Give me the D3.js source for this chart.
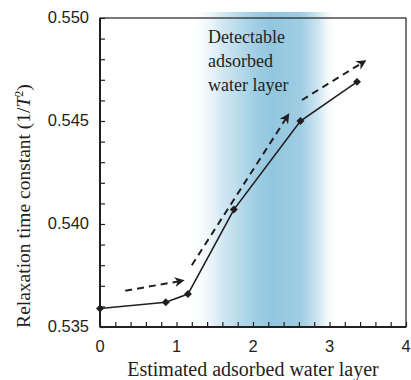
<!DOCTYPE html>
<html>
<head>
<meta charset="utf-8">
<script src="https://cdn.jsdelivr.net/npm/d3@7"></script>
<style>
  body { margin: 0; background: #fff; }
</style>
</head>
<body>
<div id="content"></div>
<script>
"use strict";

// measured points (estimated layer, 1/T2)
var layers = [0, 0.86, 1.15, 1.75, 2.62, 3.36];
var relax = [0.5359, 0.5362, 0.5366, 0.5407, 0.5450, 0.5469];

// dashed trend arrows: [x0, y0, x1, y1]
var arrows = [
  [0.33, 0.53676, 1.08, 0.53725],
  [1.20, 0.53800, 2.46, 0.54529],
  [2.64, 0.54602, 3.46, 0.54790]
];

// shaded detectable band (x range)
var band = [1.15, 3.1];

var xTicks = [0, 1, 2, 3, 4];
var yTicks = [0.535, 0.540, 0.545, 0.550];
var noteLines = ["Detectable", "adsorbed", "water layer"];

var width = 411, height = 380;
var margin = { left: 100, right: 5, top: 18, bottom: 53 };
var serif = '"Liberation Serif", "DejaVu Serif", "Times New Roman", serif';

var svg = d3.select('#content').append('svg')
  .attr('width', width)
  .attr('height', height)
  .attr('font-family', serif)
  .style('font-family', serif);

var x = d3.scaleLinear().domain([0, 4]).range([margin.left, width - margin.right]);
var y = d3.scaleLinear().domain([0.535, 0.550]).range([height - margin.bottom, margin.top]);

var defs = svg.append('defs');
var grad = defs.append('linearGradient').attr('id', 'bandGrad')
  .attr('x1', '0%').attr('x2', '100%').attr('y1', '0%').attr('y2', '0%');
[[0, '#ffffff', 0], [0.22, '#d4e9f3', 1], [0.44, '#a2cfe4', 1], [0.56, '#92c6df', 1],
 [0.76, '#9fcde3', 1], [0.88, '#d2e8f2', 1], [1, '#ffffff', 0]].forEach(function(s) {
  grad.append('stop').attr('offset', s[0]).attr('stop-color', s[1]).attr('stop-opacity', s[2]);
});

svg.append('rect')
  .attr('x', x(band[0]))
  .attr('y', margin.top - 6)
  .attr('width', x(band[1]) - x(band[0]))
  .attr('height', y(0.535) - margin.top + 6)
  .attr('fill', 'url(#bandGrad)');

// frame
svg.append('rect')
  .attr('x', x(0)).attr('y', y(0.550))
  .attr('width', x(4) - x(0)).attr('height', y(0.535) - y(0.550))
  .attr('fill', 'none').attr('stroke', '#231f20').attr('stroke-width', 1.2);

var xAxis = svg.append('g')
  .attr('transform', 'translate(0,' + y(0.535) + ')');
xAxis.call(d3.axisBottom(x).tickValues(d3.range(0, 4.01, 0.2)).tickSize(-5).tickFormat(''));
xAxis.select('.domain').remove();
xAxis.selectAll('line').attr('stroke', '#231f20').attr('stroke-width', 1.2);
xAxis.selectAll('.ticklbl').data(xTicks).enter().append('text')
  .attr('x', function(d) { return x(d); })
  .attr('y', 25)
  .attr('text-anchor', 'middle')
  .attr('fill', '#231f20')
  .style('font-size', '16.5px')
  .text(function(d) { return d; });

var yAxis = svg.append('g')
  .attr('transform', 'translate(' + x(0) + ',0)');
yAxis.call(d3.axisLeft(y).tickValues(d3.range(0.535, 0.5505, 0.001)).tickSize(-5).tickFormat(''));
yAxis.select('.domain').remove();
yAxis.selectAll('line').attr('stroke', '#231f20').attr('stroke-width', 1.2);
yAxis.selectAll('.ticklbl').data(yTicks).enter().append('text')
  .attr('x', -11)
  .attr('y', function(d) { return y(d) + 5; })
  .attr('text-anchor', 'end')
  .attr('fill', '#231f20')
  .style('font-size', '16.5px')
  .text(function(d) { return d3.format('.3f')(d); });

// heavier bottom and left axis lines
svg.append('line').attr('x1', x(0)).attr('x2', x(4)).attr('y1', y(0.535)).attr('y2', y(0.535))
  .attr('stroke', '#231f20').attr('stroke-width', 2);
svg.append('line').attr('x1', x(0)).attr('x2', x(0)).attr('y1', y(0.535)).attr('y2', y(0.550))
  .attr('stroke', '#231f20').attr('stroke-width', 2);

// arrows
defs.append('marker').attr('id', 'head')
  .attr('viewBox', '0 0 10 10').attr('refX', 8).attr('refY', 5)
  .attr('markerWidth', 5).attr('markerHeight', 5)
  .attr('markerUnits', 'strokeWidth')
  .attr('orient', 'auto')
  .append('path').attr('d', 'M0,0 L10,5 L0,10 L3,5 Z').attr('fill', '#231f20');

svg.selectAll('.arrow').data(arrows).enter().append('line')
  .attr('class', 'arrow')
  .attr('x1', function(d) { return x(d[0]); })
  .attr('y1', function(d) { return y(d[1]); })
  .attr('x2', function(d) { return x(d[2]); })
  .attr('y2', function(d) { return y(d[3]); })
  .attr('stroke', '#231f20')
  .attr('stroke-width', 2)
  .attr('stroke-dasharray', '7,5')
  .attr('marker-end', 'url(#head)');

// data line
var pts = layers.map(function(d, i) { return [d, relax[i]]; });
svg.append('path')
  .datum(pts)
  .attr('d', d3.line().x(function(d) { return x(d[0]); }).y(function(d) { return y(d[1]); }))
  .attr('fill', 'none')
  .attr('stroke', '#231f20')
  .attr('stroke-width', 1.6);

svg.selectAll('.pt').data(pts).enter().append('path')
  .attr('class', 'pt')
  .attr('transform', function(d) { return 'translate(' + x(d[0]) + ',' + y(d[1]) + ')'; })
  .attr('d', d3.symbol().type(d3.symbolDiamond2).size(40))
  .attr('fill', '#231f20');

// note
svg.append('g').selectAll('text').data(noteLines).enter().append('text')
  .attr('x', 208)
  .attr('y', function(d, i) { return 43 + i * 24; })
  .attr('fill', '#231f20')
  .style('font-size', '18px')
  .text(function(d) { return d; });

// axis titles
svg.append('text')
  .attr('x', (x(0) + x(4)) / 2)
  .attr('y', 376)
  .attr('text-anchor', 'middle')
  .attr('fill', '#231f20')
  .style('font-size', '20px')
  .text('Estimated adsorbed water layer');

var yl = svg.append('text')
  .attr('transform', 'translate(30,' + 206 + ') rotate(-90)')
  .attr('text-anchor', 'middle')
  .attr('fill', '#231f20')
  .style('font-size', '19.5px');
yl.append('tspan').text('Relaxation time constant (1/');
yl.append('tspan').style('font-style', 'italic').text('T');
yl.append('tspan').attr('dy', -7).style('font-size', '12px').text('2');
yl.append('tspan').attr('dy', 7).text(')');
</script>
</body>
</html>
